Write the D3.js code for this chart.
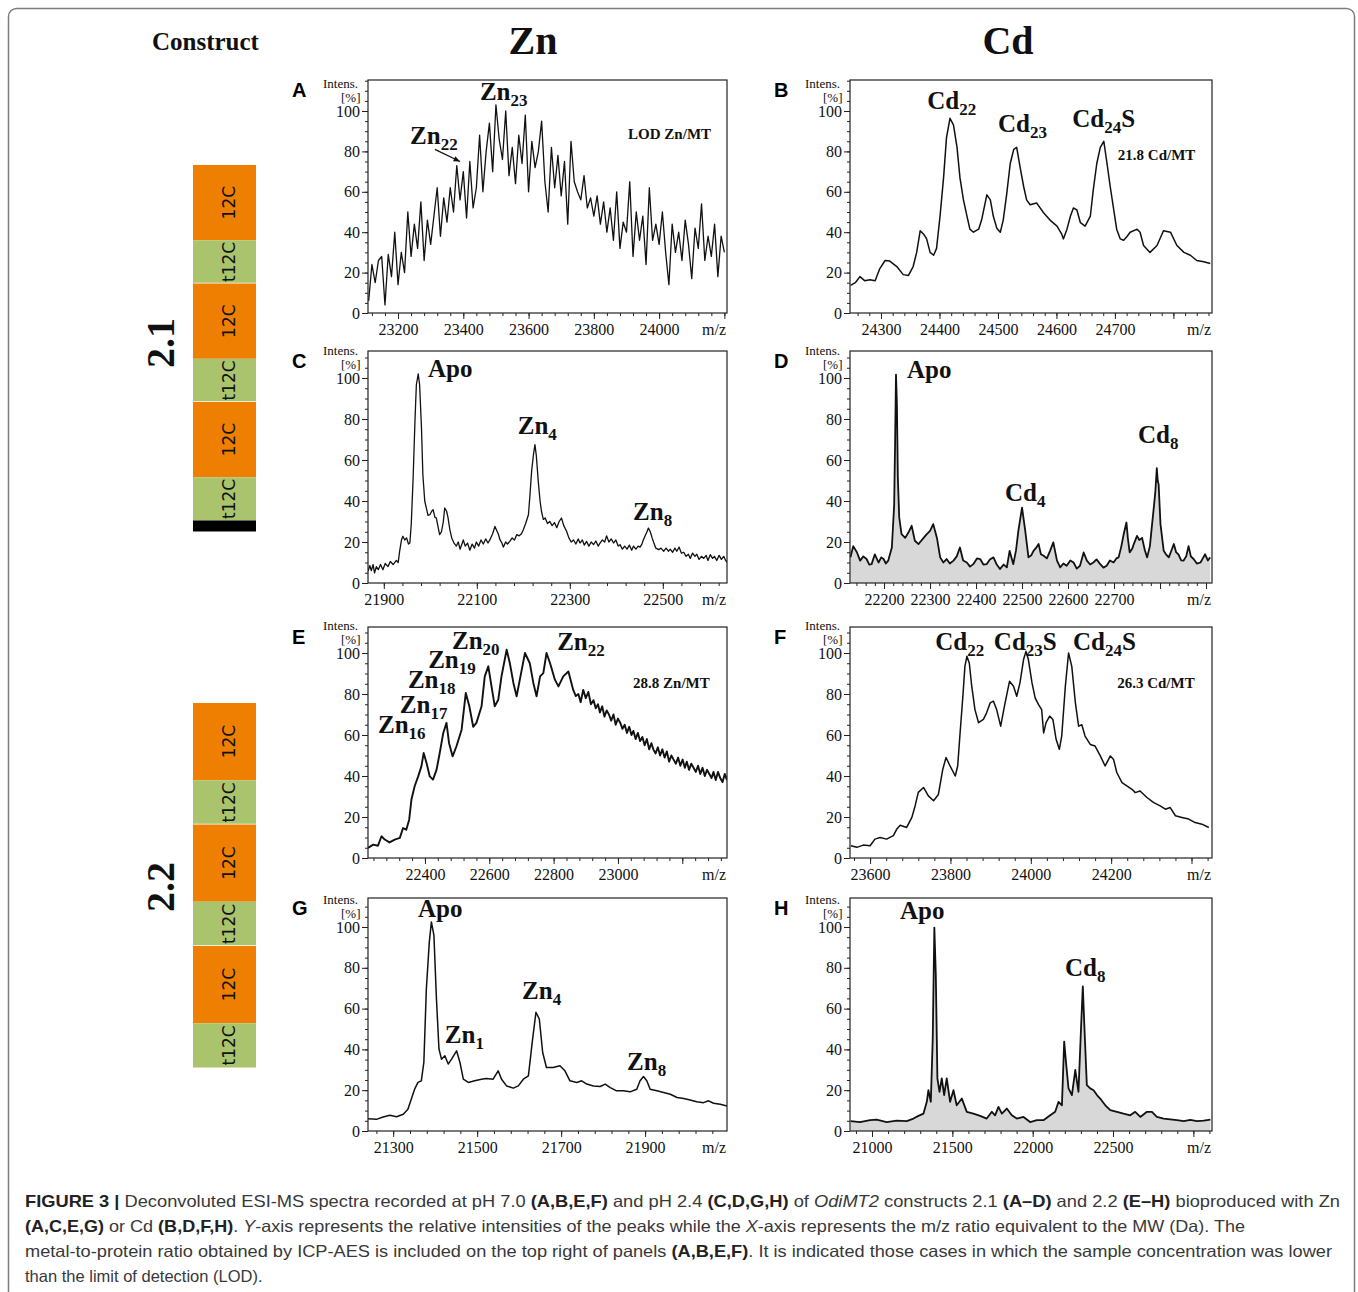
<!DOCTYPE html>
<html>
<head>
<meta charset="utf-8">
<script src="https://cdn.jsdelivr.net/npm/d3@7"></script>
<style>
body { margin: 0; background: #fff; }
</style>
</head>
<body>
<svg id="fig" width="1358" height="1292"></svg>
<script>
'use strict'

// ---- spectra, [m/z, relative intensity %] ----
const specA = [[23110,6],[23120,24],[23130,15],[23140,26],[23150,28],[23160,4],[23170,29],[23180,18],[23190,40],[23200,14],[23210,30],[23220,20],[23230,50],[23240,28],[23250,44],[23260,32],[23270,55],[23280,26],[23290,46],[23300,34],[23310,48],[23320,62],[23330,38],[23340,57],[23350,45],[23360,62],[23370,50],[23380,73],[23390,56],[23400,70],[23410,47],[23420,75],[23430,52],[23440,62],[23450,88],[23460,60],[23470,80],[23480,94],[23490,70],[23500,103],[23510,86],[23520,76],[23530,100],[23540,68],[23550,82],[23560,64],[23570,88],[23580,74],[23590,98],[23600,60],[23610,85],[23620,72],[23630,80],[23640,95],[23650,65],[23660,50],[23670,82],[23680,62],[23690,78],[23700,58],[23710,75],[23720,44],[23730,85],[23740,65],[23750,60],[23760,56],[23770,68],[23780,52],[23790,57],[23800,48],[23810,58],[23820,44],[23830,55],[23840,40],[23850,52],[23860,36],[23870,60],[23880,32],[23890,45],[23900,40],[23910,65],[23920,28],[23930,50],[23940,36],[23950,48],[23960,24],[23970,62],[23980,36],[23990,44],[24000,34],[24010,50],[24020,30],[24030,14],[24040,44],[24050,30],[24060,40],[24070,26],[24080,46],[24090,34],[24100,17],[24110,42],[24120,32],[24130,54],[24140,26],[24150,38],[24160,28],[24170,44],[24180,18],[24190,38],[24200,30]]

const specB = [[24248,13.7],[24256,15],[24264,18],[24272,16],[24281,16.5],[24290,16],[24298,22],[24307,26],[24315,25.7],[24327,23],[24338,19],[24347,18.6],[24355,23],[24361,30],[24367,40.7],[24373,39],[24378,36.7],[24384,30],[24390,28.6],[24395,32],[24401,48],[24407,67],[24412,86.8],[24418,96.4],[24424,93],[24430,82],[24435,67],[24441,56],[24447,48],[24452,41.5],[24458,40],[24467,41.5],[24472,46],[24481,58.5],[24487,56],[24492,48],[24498,42],[24504,40],[24509,46],[24515,59],[24521,74],[24527,81],[24532,82],[24538,72],[24544,62.5],[24549,56],[24555,53.6],[24566,54.5],[24578,49.6],[24589,46],[24601,43],[24609,39],[24612,36.7],[24618,41.5],[24624,48],[24629,52],[24635,51],[24641,44.7],[24649,43],[24658,48],[24663,61],[24669,74],[24675,82],[24681,85],[24686,75],[24692,62.5],[24698,51],[24703,41.5],[24709,36.7],[24715,36],[24721,38],[24726,40],[24738,41.5],[24743,40],[24749,33.4],[24760,30],[24772,33.4],[24783,40.7],[24795,40],[24806,33.4],[24818,30],[24829,28.6],[24840,26],[24852,25.4],[24863,24.5]]

const specC = [[21866,5.7],[21870,8.5],[21873,6],[21877,9],[21880,4.9],[21884,8],[21888,6.5],[21893,9],[21898,6.5],[21903,9.5],[21909,8],[21914,10.5],[21920,9],[21927,11],[21931,10],[21934,15.4],[21938,21],[21941,22.8],[21945,21],[21949,22],[21953,19],[21956,19.5],[21959,28.5],[21963,51],[21967,79],[21970,96.7],[21974,102],[21977,96.7],[21981,75.6],[21984,52.8],[21988,40],[21992,36],[21995,33],[21999,33.3],[22003,35],[22006,35.8],[22010,32],[22013,31.7],[22017,27],[22020,23.6],[22024,25],[22028,30],[22031,36.6],[22035,35],[22038,32],[22042,26],[22046,22],[22051,19.5],[22056,18],[22060,20],[22064,16.5],[22068,19],[22071,21],[22075,18],[22080,19.5],[22085,16],[22090,19],[22095,17],[22099,20],[22104,18],[22109,21],[22114,19],[22119,21.5],[22124,19.5],[22128,21],[22134,24],[22139,27.6],[22143,25.5],[22146,24],[22150,21],[22154,19.5],[22157,17.5],[22162,20],[22166,19],[22171,20.3],[22176,22],[22181,21],[22186,23.6],[22191,23],[22196,24],[22200,26],[22205,29],[22211,33.3],[22214,42],[22218,55],[22222,63],[22225,67.5],[22228,62],[22232,50],[22236,40],[22239,35],[22243,31],[22247,31.7],[22252,29],[22257,30],[22262,28],[22267,29.5],[22272,27],[22277,30],[22282,31.7],[22287,28],[22293,25.2],[22298,22],[22303,20],[22308,21],[22313,19],[22318,21.5],[22322,19.5],[22327,21],[22331,18.5],[22336,20.3],[22341,18],[22346,20],[22351,18.7],[22356,20.5],[22361,18],[22365,19.5],[22370,21],[22375,20],[22379,23],[22384,20],[22389,21.5],[22394,19.5],[22399,21],[22404,18],[22408,18.7],[22413,16.5],[22418,18],[22423,16.5],[22428,18.5],[22433,16],[22437,18],[22442,16.5],[22447,18],[22451,17.5],[22455,19],[22458,21],[22462,23],[22466,25],[22469,26.8],[22473,25],[22477,22],[22480,20],[22485,17],[22491,16.3],[22496,17],[22502,15.5],[22507,17],[22512,15.5],[22516,16.5],[22521,15],[22526,17],[22530,15.5],[22535,17.5],[22540,14.5],[22545,15],[22550,13],[22555,14],[22559,12],[22564,14.6],[22569,13],[22573,14],[22578,11.5],[22583,13],[22588,12],[22593,13.5],[22597,11],[22602,13.8],[22607,12],[22611,13],[22616,11],[22621,13.5],[22626,11.5],[22631,13],[22635,11],[22638,10]]

const specD = [[22127,12.5],[22133,18],[22141,15],[22148,10.9],[22155,13],[22162,11.7],[22168,9],[22173,9.2],[22180,14],[22188,10],[22194,12.5],[22199,11.7],[22204,9.5],[22209,10.9],[22217,17.3],[22222,38],[22224,67.6],[22226,101.6],[22228,87],[22230,51.4],[22233,32],[22238,23.8],[22246,22],[22253,24.6],[22260,27.9],[22267,20.6],[22275,19],[22286,22],[22293,23.8],[22300,25.4],[22307,28.7],[22315,22],[22322,12.5],[22329,10],[22336,11.7],[22343,9.5],[22351,10.9],[22358,13],[22365,17.3],[22372,11],[22380,10],[22387,8],[22394,9.2],[22402,12],[22409,11.7],[22416,9],[22423,9.2],[22430,11.5],[22438,12.5],[22445,9],[22452,6.8],[22460,9],[22467,7.6],[22473,15.7],[22481,9.2],[22487,16],[22492,25.4],[22500,36.8],[22507,25.4],[22514,12.5],[22520,13.5],[22525,15.7],[22530,17],[22536,19],[22541,14],[22547,13.3],[22554,12],[22561,15.7],[22568,19.8],[22576,10.9],[22583,7.6],[22590,9.5],[22597,8.4],[22605,11],[22612,10],[22619,7],[22626,8.4],[22634,14.9],[22641,10.9],[22648,9],[22655,10],[22662,11.5],[22670,9.2],[22677,7.5],[22684,8.4],[22691,11],[22699,10],[22705,12],[22710,12.5],[22716,18],[22721,23.8],[22727,29.5],[22730,22],[22734,14.9],[22740,17],[22743,19],[22750,23],[22755,21],[22761,22],[22767,16],[22772,12.5],[22778,18],[22782,27],[22787,38],[22790,45],[22793,56],[22795,50],[22797,48],[22801,28.7],[22808,15.7],[22813,14],[22819,12.5],[22825,16],[22830,19],[22835,15],[22840,14],[22846,11],[22851,10.9],[22857,13],[22862,18],[22867,13],[22873,11.7],[22880,9.5],[22888,10],[22893,12],[22898,14],[22904,11],[22909,12.5]]

const specE = [[22223,4.9],[22239,6.5],[22254,6],[22265,10.6],[22275,9],[22290,7.6],[22306,9],[22322,9.8],[22332,14.6],[22342,13.8],[22351,18.7],[22358,28.5],[22368,35],[22379,39.8],[22389,44.7],[22396,51.2],[22405,46.3],[22415,39.8],[22425,38.2],[22436,43],[22446,51.2],[22457,61],[22467,65.9],[22475,56],[22486,49.6],[22498,54.5],[22514,62.6],[22527,80.5],[22538,74],[22550,64],[22560,65.9],[22576,74],[22586,88.6],[22597,93.5],[22607,83.7],[22617,74],[22628,77.2],[22638,88.6],[22654,101.6],[22664,95],[22675,85.4],[22685,78.9],[22695,87],[22711,100],[22726,95],[22737,85.4],[22747,78.9],[22758,88.6],[22768,90.2],[22778,100],[22789,95],[22804,87],[22815,83.7],[22830,88.6],[22846,91],[22861,82],[22869,79],[22877,80],[22884,76],[22892,82],[22900,78],[22908,81],[22916,75],[22924,77],[22931,73],[22938,75],[22944,71],[22951,74],[22958,69],[22965,72],[22972,70],[22979,67],[22986,70],[22993,65],[23000,68],[23007,66],[23014,63],[23021,65],[23028,61],[23035,64],[23042,60],[23048,62],[23055,58],[23062,61],[23069,57],[23076,59],[23083,55],[23090,58],[23097,53],[23104,56],[23110,53],[23117,51],[23124,54],[23131,50],[23138,53],[23145,49],[23152,52],[23159,47],[23166,50],[23173,48],[23180,46],[23187,49],[23194,45],[23201,48],[23208,44],[23214,47],[23221,43],[23228,46],[23235,44],[23242,42],[23249,45],[23256,41],[23263,44],[23270,40],[23277,43],[23284,41],[23291,39],[23297,42],[23304,38],[23311,42],[23318,39],[23325,37],[23332,41],[23339,38]]

const specF = [[23552,6],[23567,5.2],[23583,6.3],[23600,6],[23612,9.2],[23625,10],[23641,9.2],[23658,10.9],[23666,14],[23675,16],[23691,14.9],[23704,19.8],[23712,25.4],[23720,32],[23733,34.4],[23745,30.3],[23758,27.9],[23770,31],[23781,43.3],[23789,49],[23799,44.9],[23812,40],[23818,44.9],[23824,61],[23831,79],[23836,93.5],[23841,98.4],[23847,95],[23853,83.8],[23861,72.4],[23870,66],[23882,67.6],[23890,70.8],[23899,75.7],[23907,76.5],[23915,72.4],[23925,64.3],[23936,75.7],[23947,86.2],[23957,83.8],[23965,78.9],[23973,85.4],[23982,96.8],[23988,100.8],[23994,96.8],[24003,85.4],[24011,78],[24019,74.9],[24027,72.4],[24032,61],[24038,66],[24047,69.2],[24055,67.6],[24063,57.9],[24071,53],[24077,59.5],[24086,83.8],[24094,100],[24102,93.5],[24111,75.7],[24119,64.3],[24127,65],[24135,59.5],[24148,55.4],[24160,54.6],[24173,49.8],[24185,44.9],[24198,49.8],[24206,48.1],[24214,41.7],[24227,36.8],[24239,35.2],[24252,33.5],[24260,31.9],[24272,32.7],[24289,29.5],[24306,27],[24322,25.4],[24335,23.8],[24347,24.6],[24360,20.6],[24376,19.8],[24393,19],[24409,17.3],[24426,16.5],[24443,14.9]]

const specG = [[21240,6],[21260,5.7],[21276,6.9],[21292,7.7],[21308,7],[21324,8.2],[21335,10.7],[21343,15.6],[21351,20.5],[21359,23.8],[21367,24.6],[21373,33.6],[21379,69.7],[21386,92.6],[21391,102.5],[21397,95.9],[21403,64.8],[21409,40.2],[21415,35.2],[21423,36.9],[21431,32.8],[21439,35.2],[21451,39.3],[21459,33.6],[21467,25.4],[21479,23.8],[21494,24.6],[21510,25.4],[21522,25.7],[21538,25.4],[21550,29.5],[21558,25.4],[21570,22.1],[21586,21],[21598,22.1],[21610,25.4],[21622,27],[21632,45],[21640,58.2],[21648,54.9],[21656,38.5],[21665,31.1],[21681,31.1],[21697,32],[21709,29.5],[21721,24.6],[21737,23.8],[21749,24.6],[21761,23],[21777,22.1],[21793,21.8],[21805,23],[21817,21.3],[21832,19.7],[21848,19.7],[21864,19.2],[21880,20.5],[21888,24.6],[21896,26.7],[21904,24.6],[21912,20.5],[21928,19.7],[21944,18.9],[21960,18],[21976,16.4],[21992,15.9],[22007,15.2],[22023,14.3],[22039,13.9],[22051,14.8],[22063,13.6],[22079,13.1],[22095,12.3]]

const specH = [[20867,4.8],[20925,4.4],[20988,5.3],[21029,5.6],[21091,4.4],[21154,5.1],[21216,4.8],[21258,6.1],[21289,7.4],[21320,8.5],[21341,14.3],[21351,20],[21366,14.3],[21378,45.5],[21388,99.7],[21397,76.7],[21407,25.8],[21420,19.2],[21434,25.8],[21449,17.6],[21465,25.8],[21486,14.3],[21507,20],[21527,12.6],[21559,15.9],[21590,9.4],[21631,8.5],[21673,7.4],[21714,6.1],[21746,9.4],[21766,7.7],[21787,11.8],[21808,8.5],[21839,11],[21870,7.7],[21901,6.1],[21943,6.9],[21984,4.4],[22026,5.3],[22067,5.3],[22109,7.7],[22140,9.4],[22161,14.3],[22182,12.6],[22196,43.8],[22209,32.3],[22223,20.9],[22244,17.6],[22265,29.9],[22285,19.2],[22300,48.8],[22312,70.9],[22323,48.8],[22337,22.5],[22358,20.9],[22379,20],[22400,17.6],[22420,15.9],[22452,12.6],[22483,10.2],[22524,9.4],[22566,8.5],[22607,7.7],[22638,9.4],[22670,6.9],[22711,9.4],[22742,9.4],[22773,6.9],[22815,6.1],[22856,5.7],[22898,5.3],[22940,4.8],[22981,5.4],[23023,4.8],[23064,5.1],[23106,5.6]]

// ---- tick labels ----
const yTickLabels = [0, 20, 40, 60, 80, 100]
const ticksA = [23200, 23400, 23600, 23800, 24000]
const ticksB = [24300, 24400, 24500, 24600, 24700]
const ticksC = [21900, 22100, 22300, 22500]
const ticksD = [22200, 22300, 22400, 22500, 22600, 22700]
const ticksE = [22400, 22600, 22800, 23000]
const ticksF = [23600, 23800, 24000, 24200]
const ticksG = [21300, 21500, 21700, 21900]
const ticksH = [21000, 21500, 22000, 22500]

// ---- peak annotations, anchored at [m/z, intensity] ----
const notesA = [{m: 'Zn', s: '23', at: [23451, 105.5]}, {m: 'Zn', s: '22', at: [23237, 83.6]}]
const notesB = [{m: 'Cd', s: '22', at: [24379, 101]}, {m: 'Cd', s: '23', at: [24500, 89.8]}, {m: 'Cd', s: '24', e: 'S', at: [24627, 92.2]}]
const notesC = [{m: 'Apo', at: [21995, 100.5]}, {m: 'Zn', s: '4', at: [22188, 72.7]}, {m: 'Zn', s: '8', at: [22436, 30.7]}]
const notesD = [{m: 'Apo', at: [22250, 100]}, {m: 'Cd', s: '4', at: [22463, 39.8]}, {m: 'Cd', s: '8', at: [22752, 68.4]}]
const notesE = [{m: 'Zn', s: '16', at: [22254, 61]}, {m: 'Zn', s: '17', at: [22322, 70.7]}, {m: 'Zn', s: '18', at: [22347, 82.9]},
	{m: 'Zn', s: '19', at: [22410, 92.7]}, {m: 'Zn', s: '20', at: [22484, 102]}, {m: 'Zn', s: '22', at: [22811, 101.5]}]
const notesF = [{m: 'Cd', s: '22', at: [23762, 101.5]}, {m: 'Cd', s: '23', e: 'S', at: [23908, 101.5]}, {m: 'Cd', s: '24', e: 'S', at: [24105, 101.5]}]
const notesG = [{m: 'Apo', at: [21359, 105]}, {m: 'Zn', s: '1', at: [21423, 43.3]}, {m: 'Zn', s: '4', at: [21607, 64.5]}, {m: 'Zn', s: '8', at: [21857, 30]}]
const notesH = [{m: 'Apo', at: [21174, 104]}, {m: 'Cd', s: '8', at: [22201, 76]}]
const ratioA = {t: 'LOD Zn/MT', at: [23905, 86]}
const ratioB = {t: '21.8 Cd/MT', at: [24705, 75.7]}
const ratioE = {t: '28.8 Zn/MT', at: [23047, 82.9]}
const ratioF = {t: '26.3 Cd/MT', at: [24215, 83]}
const arrowA = [[23313, 81], [23390, 75]]

// ---- construct modules ----
const construct21 = ['12C', 't12C', '12C', 't12C', '12C', 't12C', 'tail']
const construct22 = ['12C', 't12C', '12C', 't12C', '12C', 't12C']

const captionLines = [
	[['b', 'FIGURE 3 | '], ['n', 'Deconvoluted ESI-MS spectra recorded at pH 7.0 '], ['b', '(A,B,E,F)'], ['n', ' and pH 2.4 '], ['b', '(C,D,G,H)'], ['n', ' of '], ['i', 'OdiMT2'], ['n', ' constructs 2.1 '], ['b', '(A–D)'], ['n', ' and 2.2 '], ['b', '(E–H)'], ['n', ' bioproduced with Zn']],
	[['b', '(A,C,E,G)'], ['n', ' or Cd '], ['b', '(B,D,F,H)'], ['n', '. '], ['i', 'Y'], ['n', '-axis represents the relative intensities of the peaks while the '], ['i', 'X'], ['n', '-axis represents the m/z ratio equivalent to the MW (Da). The']],
	[['n', 'metal-to-protein ratio obtained by ICP-AES is included on the top right of panels '], ['b', '(A,B,E,F)'], ['n', '. It is indicated those cases in which the sample concentration was lower']],
	[['n', 'than the limit of detection (LOD).']]
]

// ---- layout ----
const SERIF = "'Liberation Serif', 'Times New Roman', serif"
const SANS = "'Liberation Sans', Arial, sans-serif"
const cols = [{left: 368, right: 727}, {left: 850, right: 1212}]
const rows = [
	{top: 80, y0: 313, y100: 111},
	{top: 351, y0: 583, y100: 378},
	{top: 627, y0: 858, y100: 653},
	{top: 898, y0: 1131, y100: 927}
]
const panels = [
	{id: 'A', col: 0, row: 0, data: specA, domain: [23108, 24208], labels: ticksA, step: 200, minor: 40, notes: notesA, ratio: ratioA, arrow: arrowA, width: 1.3},
	{id: 'B', col: 1, row: 0, data: specB, domain: [24247, 24866], labels: ticksB, step: 100, minor: 20, notes: notesB, ratio: ratioB, width: 1.5},
	{id: 'C', col: 0, row: 1, data: specC, domain: [21866, 22638], labels: ticksC, step: 200, minor: 40, notes: notesC, width: 1.3},
	{id: 'D', col: 1, row: 1, data: specD, domain: [22126, 22913], labels: ticksD, step: 100, minor: 20, notes: notesD, filled: true, width: 1.8},
	{id: 'E', col: 0, row: 2, data: specE, domain: [22223, 23339], labels: ticksE, step: 200, minor: 40, notes: notesE, ratio: ratioE, width: 1.9},
	{id: 'F', col: 1, row: 2, data: specF, domain: [23550, 24451], labels: ticksF, step: 200, minor: 40, notes: notesF, ratio: ratioF, width: 1.5},
	{id: 'G', col: 0, row: 3, data: specG, domain: [21240, 22095], labels: ticksG, step: 200, minor: 40, notes: notesG, width: 1.5},
	{id: 'H', col: 1, row: 3, data: specH, domain: [20863, 23116], labels: ticksH, step: 500, minor: 100, notes: notesH, filled: true, width: 1.8}
]

const svg = d3.select('#fig')
svg.append('rect').attr('width', 1358).attr('height', 1292).attr('fill', '#fff')
svg.append('rect')
	.attr('x', 8.5).attr('y', 8.5).attr('width', 1346).attr('height', 1330).attr('rx', 8)
	.attr('fill', 'none').attr('stroke', '#7d7d7d').attr('stroke-width', 1.5)

// headers
svg.append('text').attr('x', 152).attr('y', 50).text('Construct')
	.attr('font-family', SERIF).attr('font-weight', 'bold').attr('font-size', 25).attr('fill', '#111')
svg.append('text').attr('x', 533).attr('y', 54).text('Zn').attr('text-anchor', 'middle')
	.attr('font-family', SERIF).attr('font-weight', 'bold').attr('font-size', 40).attr('fill', '#111')
svg.append('text').attr('x', 1008).attr('y', 54).text('Cd').attr('text-anchor', 'middle')
	.attr('font-family', SERIF).attr('font-weight', 'bold').attr('font-size', 40).attr('fill', '#111')

function styleAxis(sel) {
	sel.select('.domain').remove()
	sel.selectAll('line').attr('stroke', '#222')
	sel.selectAll('text').attr('font-family', SERIF).attr('font-size', 16).attr('fill', '#111')
}

function drawNote(g, x, y, n) {
	const t = g.append('text')
		.attr('x', x(n.at[0])).attr('y', y(n.at[1]))
		.attr('font-family', SERIF).attr('font-weight', 'bold').attr('fill', '#111')
	t.append('tspan').attr('font-size', 25).text(n.m)
	if (n.s) t.append('tspan').attr('font-size', 17).attr('dy', 6).text(n.s)
	if (n.e) t.append('tspan').attr('font-size', 25).attr('dy', -6).text(n.e)
}

// ticks on the grid of the labelled ticks, inside the domain
function gridFrom(anchor, d0, d1, step) {
	const start = anchor - Math.floor((anchor - d0) / step) * step
	return d3.range(start, d1, step)
}

function drawPanel(p) {
	const c = cols[p.col]
	const r = rows[p.row]
	const x = d3.scaleLinear().domain(p.domain).range([c.left, c.right])
	const y = d3.scaleLinear().domain([0, 100]).range([r.y0, r.y100])
	const g = svg.append('g').attr('class', 'panel-' + p.id)

	const clipId = 'clip-' + p.id
	g.append('clipPath').attr('id', clipId).append('rect')
		.attr('x', c.left).attr('y', r.top).attr('width', c.right - c.left).attr('height', r.y0 - r.top)
	const plot = g.append('g').attr('clip-path', 'url(#' + clipId + ')')
	if (p.filled) {
		plot.append('path').datum(p.data)
			.attr('d', d3.area().x(d => x(d[0])).y0(y(0)).y1(d => y(d[1])))
			.attr('fill', '#d8d8d8')
	}
	plot.append('path').datum(p.data)
		.attr('d', d3.line().x(d => x(d[0])).y(d => y(d[1])))
		.attr('fill', 'none').attr('stroke', '#111')
		.attr('stroke-width', p.width).attr('stroke-linejoin', 'round')

	g.append('rect')
		.attr('x', c.left).attr('y', r.top).attr('width', c.right - c.left).attr('height', r.y0 - r.top)
		.attr('fill', 'none').attr('stroke', '#222').attr('stroke-width', 1.2)

	// y axis
	const yTop = y.invert(r.top)
	g.append('g').attr('transform', 'translate(' + c.left + ',0)')
		.call(d3.axisLeft(y).tickValues(d3.range(0, yTop, 5)).tickSize(3).tickFormat(''))
		.call(styleAxis)
	g.append('g').attr('transform', 'translate(' + c.left + ',0)')
		.call(d3.axisLeft(y).tickValues(yTickLabels).tickSize(6).tickPadding(2))
		.call(styleAxis)

	// x axis
	const d0 = p.domain[0], d1 = p.domain[1]
	g.append('g').attr('transform', 'translate(0,' + r.y0 + ')')
		.call(d3.axisBottom(x).tickValues(gridFrom(p.labels[0], d0, d1, p.minor)).tickSize(3).tickFormat(''))
		.call(styleAxis)
	g.append('g').attr('transform', 'translate(0,' + r.y0 + ')')
		.call(d3.axisBottom(x).tickValues(gridFrom(p.labels[0], d0, d1, p.step))
			.tickSize(6).tickPadding(5).tickFormat(d => p.labels.includes(d) ? d : ''))
		.call(styleAxis)
	g.append('text').attr('x', c.right - 1).attr('y', r.y0 + 22).attr('text-anchor', 'end')
		.attr('font-family', SERIF).attr('font-size', 16).attr('fill', '#111').text('m/z')

	// axis title, stacked above the 100 label
	g.append('text').attr('x', c.left - 45).attr('y', y(100) - 23)
		.attr('font-family', SERIF).attr('font-size', 13).attr('fill', '#111').text('Intens.')
	g.append('text').attr('x', c.left - 27).attr('y', y(100) - 9)
		.attr('font-family', SERIF).attr('font-size', 13).attr('fill', '#111').text('[%]')

	// panel letter
	g.append('text').attr('x', c.left - 76).attr('y', r.top + 17)
		.attr('font-family', SANS).attr('font-weight', 'bold').attr('font-size', 20).attr('fill', '#000').text(p.id)

	p.notes.forEach(n => drawNote(g, x, y, n))
	if (p.ratio) {
		g.append('text').attr('x', x(p.ratio.at[0])).attr('y', y(p.ratio.at[1]))
			.attr('font-family', SERIF).attr('font-weight', 'bold').attr('font-size', 15).attr('fill', '#111')
			.text(p.ratio.t)
	}
	if (p.arrow) {
		const a = p.arrow.map(d => [x(d[0]), y(d[1])])
		g.append('line').attr('x1', a[0][0]).attr('y1', a[0][1]).attr('x2', a[1][0]).attr('y2', a[1][1])
			.attr('stroke', '#111').attr('stroke-width', 1.2)
		const ang = Math.atan2(a[1][1] - a[0][1], a[1][0] - a[0][0])
		const hd = 7
		g.append('path')
			.attr('d', 'M' + a[1][0] + ',' + a[1][1] +
				'L' + (a[1][0] - hd * Math.cos(ang - 0.4)) + ',' + (a[1][1] - hd * Math.sin(ang - 0.4)) +
				'L' + (a[1][0] - hd * Math.cos(ang + 0.4)) + ',' + (a[1][1] - hd * Math.sin(ang + 0.4)) + 'Z')
			.attr('fill', '#111')
	}
}

panels.forEach(drawPanel)

// ---- construct bars ----
const moduleSize = {'12C': 75, 't12C': 43, 'tail': 11}
const moduleFill = {'12C': '#ee7f00', 't12C': '#a9c46d', 'tail': '#000'}

function drawConstruct(mods, top, bottom, label, labelY) {
	const ends = d3.cumsum(mods, m => moduleSize[m])
	const yb = d3.scaleLinear().domain([0, ends[ends.length - 1]]).range([top, bottom])
	const g = svg.append('g')
	mods.forEach((m, i) => {
		const a = yb(i ? ends[i - 1] : 0), b = yb(ends[i])
		g.append('rect').attr('x', 193).attr('y', a).attr('width', 63).attr('height', b - a).attr('fill', moduleFill[m])
		if (m !== 'tail') {
			g.append('text')
				.attr('transform', 'translate(229,' + ((a + b) / 2) + ') rotate(-90)')
				.attr('text-anchor', 'middle').attr('dominant-baseline', 'central')
				.attr('font-family', "'DejaVu Sans', sans-serif").attr('font-size', 17).attr('fill', '#111')
				.text(m)
		}
		if (m === 't12C' && i < mods.length - 1 && mods[i + 1] === '12C') {
			g.append('line').attr('x1', 193).attr('x2', 256).attr('y1', b).attr('y2', b)
				.attr('stroke', '#fff').attr('stroke-width', 1.6)
		}
	})
	svg.append('text')
		.attr('transform', 'translate(160,' + labelY + ') rotate(-90)')
		.attr('text-anchor', 'middle').attr('dominant-baseline', 'central')
		.attr('font-family', SERIF).attr('font-weight', 'bold').attr('font-size', 40).attr('fill', '#111')
		.text(label)
}

drawConstruct(construct21, 165, 531.5, '2.1', 343)
drawConstruct(construct22, 703, 1067.5, '2.2', 887)

// ---- caption ----
const capWidths = [1315, 1220, 1307, null]
captionLines.forEach((line, i) => {
	const t = svg.append('text').attr('x', 25).attr('y', 1207 + i * 25)
		.attr('font-family', SANS).attr('font-size', 16.5).attr('fill', '#383838')
	line.forEach(seg => {
		const s = t.append('tspan').text(seg[1])
		if (seg[0] === 'b') s.attr('font-weight', 'bold').attr('fill', '#222')
		if (seg[0] === 'i') s.attr('font-style', 'italic')
	})
	if (capWidths[i]) t.attr('textLength', capWidths[i]).attr('lengthAdjust', 'spacingAndGlyphs')
})
</script>
</body>
</html>
